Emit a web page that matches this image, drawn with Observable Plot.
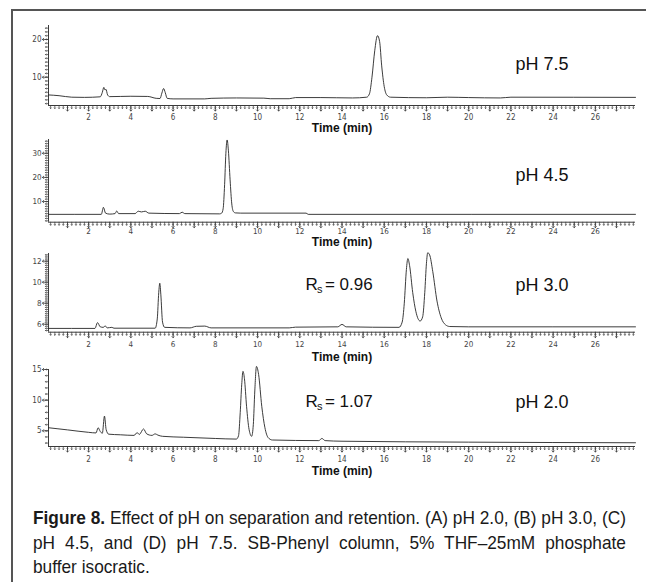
<!DOCTYPE html>
<html><head><meta charset="utf-8">
<script src="https://cdn.jsdelivr.net/npm/d3@7"></script>
<script src="https://cdn.jsdelivr.net/npm/@observablehq/plot@0.6"></script>
<style>
html,body{margin:0;padding:0;width:646px;height:582px;overflow:hidden;background:#fff;}
#frame{position:absolute;left:11px;top:9px;width:700px;height:700px;border:2px solid #555;box-sizing:border-box;}
.panel{position:absolute;left:0;}
#caption{position:absolute;left:33px;top:506px;width:592px;}
#capInner{transform-origin:0 0;font-family:"Liberation Sans",Arial,sans-serif;font-size:19px;line-height:24.5px;color:#1a1a1a;}
#capInner .j{text-align:justify;text-align-last:justify;}
</style></head>
<body>
<div id="frame"></div>
<div id="panels"></div>
<div id="caption"><div id="capInner">
<div class="j" id="cap1"><b>Figure 8.</b> Effect of pH on separation and retention. (A) pH 2.0, (B) pH 3.0, (C)</div>
<div class="j">pH 4.5, and (D) pH 7.5. SB-Phenyl column, 5% THF–25mM phosphate</div>
<div>buffer isocratic.</div>
</div></div>
<script>
// ---- data: [time (min), detector response] ----
const tracePH75 = [[0.1,5.3],[0.6,5.1],[1.2,4.7],[1.8,4.65],[2.55,4.8],[2.65,6.0],[2.72,7.3],[2.78,6.6],[2.82,6.8],[2.9,5.3],[3.0,4.85],[4.0,4.95],[4.8,4.9],[5.2,4.4],[5.38,4.35],[5.47,5.8],[5.55,7.0],[5.63,5.9],[5.72,4.4],[6.0,4.25],[7.5,4.25],[7.8,4.4],[9.0,4.5],[10.3,4.45],[10.6,4.3],[11.5,4.3],[11.8,4.6],[13.0,4.6],[14.5,4.5],[15.17,4.7],[15.3,5.6],[15.42,10.0],[15.55,17.0],[15.68,21.0],[15.78,19.5],[15.88,13.0],[16.0,7.5],[16.12,5.3],[16.3,4.7],[18.0,4.55],[19.0,4.7],[20.0,4.6],[21.5,4.5],[22.0,4.7],[27.9,4.65]];
const tracePH45 = [[0.1,4.7],[2.6,4.7],[2.7,7.6],[2.8,5.2],[3.0,4.8],[3.25,5.0],[3.33,6.1],[3.42,5.0],[4.2,5.0],[4.35,6.0],[4.5,5.7],[4.68,6.0],[4.85,5.2],[6.3,5.0],[6.43,5.6],[6.55,5.0],[8.2,4.9],[8.3,5.2],[8.37,7.0],[8.44,17.0],[8.5,30.0],[8.56,35.5],[8.62,31.0],[8.7,19.0],[8.78,9.0],[8.86,5.8],[8.95,5.3],[9.2,5.2],[12.3,5.2],[12.4,4.7],[27.9,4.7]];
const tracePH30 = [[0.1,5.6],[2.3,5.6],[2.42,6.15],[2.55,5.75],[2.7,5.7],[2.78,5.85],[2.88,5.65],[3.1,5.7],[3.2,5.62],[5.15,5.62],[5.25,6.5],[5.32,9.0],[5.37,9.9],[5.42,8.8],[5.5,6.2],[5.6,5.7],[6.8,5.65],[7.1,5.8],[7.5,5.82],[7.8,5.65],[11.5,5.65],[11.8,5.72],[13.8,5.75],[14.0,5.98],[14.2,5.75],[16.7,5.7],[16.85,6.2],[16.95,8.0],[17.05,11.2],[17.12,12.25],[17.2,11.6],[17.35,9.0],[17.5,7.2],[17.7,6.3],[17.82,6.7],[17.92,9.0],[18.0,11.8],[18.06,12.8],[18.15,12.6],[18.3,11.0],[18.5,8.2],[18.7,6.6],[18.9,5.95],[19.1,5.78],[20.0,5.75],[27.9,5.75]];
const tracePH20 = [[0.1,5.5],[1.0,5.15],[2.0,4.75],[2.35,4.65],[2.45,5.5],[2.55,4.9],[2.65,4.6],[2.75,7.4],[2.83,5.2],[2.95,4.45],[3.5,4.35],[4.15,4.25],[4.3,4.7],[4.4,4.4],[4.6,5.3],[4.75,4.5],[5.0,4.25],[5.15,4.5],[5.28,4.3],[5.5,4.1],[6.5,3.95],[8.0,3.75],[9.0,3.65],[9.1,4.2],[9.18,8.0],[9.25,12.5],[9.31,14.7],[9.38,13.5],[9.48,9.0],[9.6,5.2],[9.72,4.1],[9.8,6.0],[9.87,11.5],[9.95,15.5],[10.05,14.2],[10.2,9.0],[10.35,5.5],[10.5,3.9],[10.7,3.5],[12.9,3.4],[13.05,3.75],[13.2,3.4],[14.0,3.3],[20.0,3.15],[27.9,3.05]];

const xTickLabels = [2,4,6,8,10,12,14,16,18,20,22,24,26];
const yTickLabelsA = [10,20];
const yTickLabelsB = [10,20,30];
const yTickLabelsC = [6,8,10,12];
const yTickLabelsD = [5,10,15];
const panelNames = ["pH 7.5","pH 4.5","pH 3.0","pH 2.0"];
const resolutions = [null, null, "0.96", "1.07"];

const xDomain = [0.1, 27.9];
const panels = [
  {trace: tracePH75, name: panelNames[0], rs: resolutions[0], yDomain: [2.5, 23.7], yLabels: yTickLabelsA, yMinor: 1, nameY: 13.55, top: 25, bottom: 105, tickGap: 11.7, labelGap: 23},
  {trace: tracePH45, name: panelNames[1], rs: resolutions[1], yDomain: [1.45, 35.7], yLabels: yTickLabelsB, yMinor: 1, nameY: 21.0, top: 139, bottom: 221.7, tickGap: 8.8, labelGap: 19.5},
  {trace: tracePH30, name: panelNames[2], rs: resolutions[2], yDomain: [5.24, 12.73], yLabels: yTickLabelsC, yMinor: 0.2, nameY: 9.74, top: 253.3, bottom: 332, tickGap: 12, labelGap: 25.3},
  {trace: tracePH20, name: panelNames[3], rs: resolutions[3], yDomain: [2.44, 15], yLabels: yTickLabelsD, yMinor: 1, nameY: 9.72, top: 369, bottom: 446, tickGap: 12.5, labelGap: 25}
];

const tickFont = '"Liberation Sans Narrow","DejaVu Sans Condensed","Arial Narrow",sans-serif';
const textFont = '"Liberation Sans",Arial,Helvetica,sans-serif';
const axisColor = "#3a3a3a";
const mt = 22, mb = 34;
const host = document.getElementById("panels");

function rangeStep(a, b, s) {
  const out = [];
  const n = Math.round((b - a) / s);
  for (let i = 0; i <= n; i++) out.push(+(a + i * s).toFixed(4));
  return out;
}

for (const p of panels) {
  const [y0, y1] = p.yDomain;
  const xMinor = rangeStep(0.2, 27.8, 0.2);
  const xMajor = rangeStep(1, 27, 1);
  const yMinor = rangeStep(Math.ceil(y0 / p.yMinor) * p.yMinor, y1, p.yMinor).filter(v => v >= y0 && v <= y1);
  const marks = [
    Plot.ruleY([y0], {stroke: axisColor, strokeWidth: 1}),
    Plot.ruleX([xDomain[0]], {stroke: axisColor, strokeWidth: 1}),
    Plot.vector(xMinor, {x: d => d, frameAnchor: "bottom", length: 3, rotate: 180, anchor: "start", stroke: axisColor, strokeWidth: 0.7}),
    Plot.vector(xMajor, {x: d => d, frameAnchor: "bottom", length: 5.5, rotate: 180, anchor: "start", stroke: axisColor, strokeWidth: 0.8}),
    Plot.text(xTickLabels, {x: d => d, frameAnchor: "bottom", dy: p.tickGap, lineAnchor: "middle", fontSize: 8, fontFamily: tickFont, fill: "#444"}),
    Plot.vector(yMinor, {y: d => d, frameAnchor: "left", length: 3, rotate: -90, anchor: "start", stroke: axisColor, strokeWidth: 0.7}),
    Plot.vector(p.yLabels, {y: d => d, frameAnchor: "left", length: 6, rotate: -90, anchor: "start", stroke: axisColor, strokeWidth: 0.8}),
    Plot.text(p.yLabels, {y: d => d, frameAnchor: "left", dx: -7, textAnchor: "end", lineAnchor: "middle", fontSize: 8, fontFamily: tickFont, fill: "#444"}),
    Plot.text(["Time (min)"], {frameAnchor: "bottom", dy: p.labelGap, lineAnchor: "middle", fontSize: 12, fontWeight: "bold", fontFamily: textFont, fill: "#111"}),
    Plot.line(p.trace, {x: d => d[0], y: d => d[1], curve: "monotone-x", stroke: "#262626", strokeWidth: 0.9}),
    Plot.text([p.name], {x: 22.22, y: p.nameY, textAnchor: "start", lineAnchor: "middle", fontSize: 18, fontFamily: textFont, fill: "#111"})
  ];
  if (p.rs) {
    marks.push(
      Plot.text(["R"], {x: 12.27, y: p.nameY, textAnchor: "start", lineAnchor: "middle", fontSize: 17, fontFamily: textFont, fill: "#111"}),
      Plot.text(["s"], {x: 12.27, y: p.nameY, dx: 11.5, dy: 5, textAnchor: "start", lineAnchor: "middle", fontSize: 11, fontFamily: textFont, fill: "#111"}),
      Plot.text(["= " + p.rs], {x: 12.27, y: p.nameY, dx: 19.5, textAnchor: "start", lineAnchor: "middle", fontSize: 17, fontFamily: textFont, fill: "#111"})
    );
  }
  const h = mt + (p.bottom - p.top) + mb;
  const chart = Plot.plot({
    width: 646,
    height: h,
    marginLeft: 48,
    marginRight: 11,
    marginTop: mt,
    marginBottom: mb,
    x: {domain: xDomain, axis: null},
    y: {domain: p.yDomain, axis: null},
    style: {background: "transparent", overflow: "visible"},
    marks
  });
  chart.classList.add("panel");
  chart.style.top = (p.top - mt) + "px";
  chart.style.position = "absolute";
  host.appendChild(chart);
}

// caption: condensed look by horizontal scaling so that the first line fills the text block
(function fitCaption() {
  const inner = document.getElementById("capInner");
  const first = document.getElementById("cap1");
  const meas = document.createElement("span");
  meas.style.whiteSpace = "nowrap";
  meas.innerHTML = first.innerHTML;
  inner.appendChild(meas);
  const w = meas.getBoundingClientRect().width;
  inner.removeChild(meas);
  const s = 592 / w;
  inner.style.width = (w + 1) + "px";
  inner.style.transform = "scaleX(" + s + ")";
})();
</script>
</body></html>
